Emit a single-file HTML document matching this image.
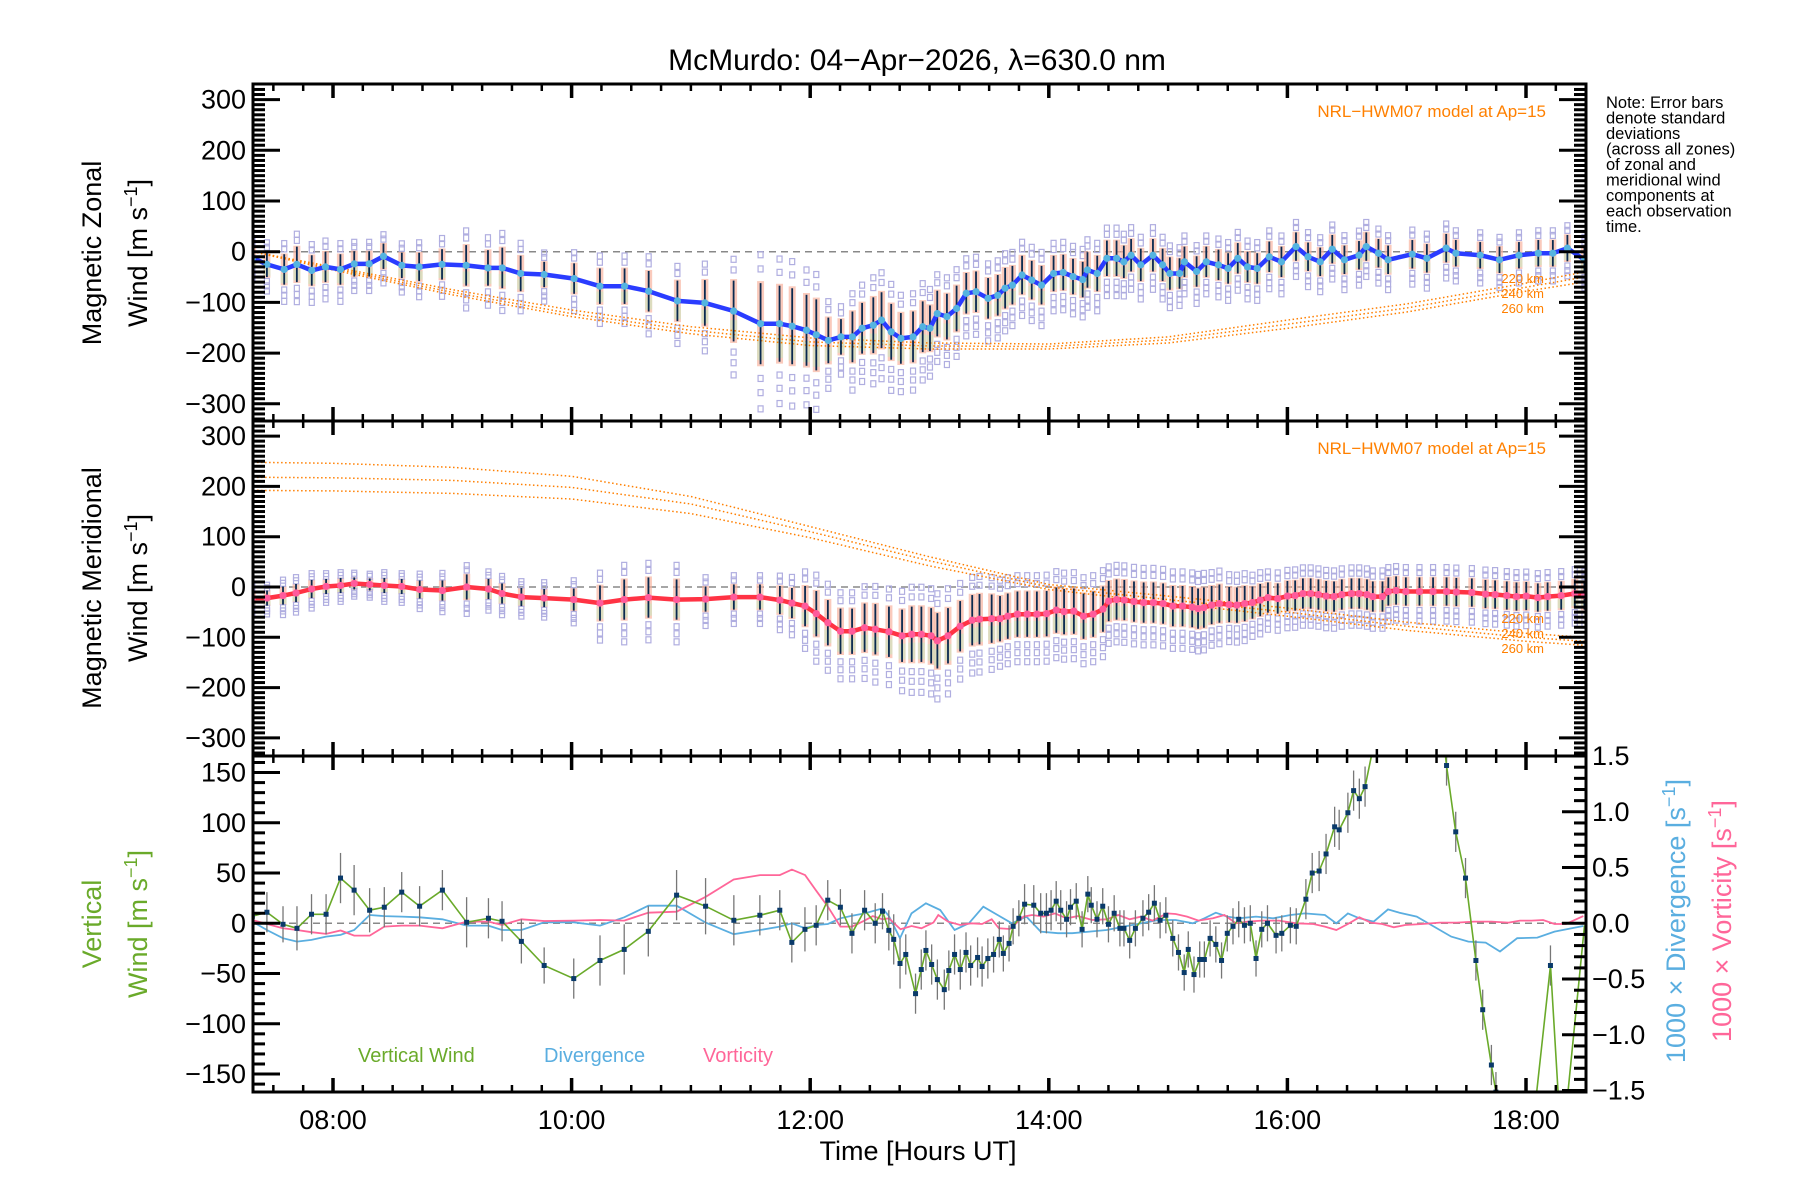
<!DOCTYPE html>
<html><head><meta charset="utf-8"><title>McMurdo winds</title>
<style>
html,body{margin:0;padding:0;background:#fff;}
svg{display:block;font-family:"Liberation Sans",sans-serif;}
</style></head>
<body>
<svg id="chart" width="1800" height="1200" viewBox="0 0 1800 1200" xmlns="http://www.w3.org/2000/svg">
<defs>
<clipPath id="c1"><rect x="253" y="84" width="1333" height="337"/></clipPath>
<clipPath id="c2"><rect x="253" y="421" width="1333" height="335"/></clipPath>
<clipPath id="c3"><rect x="253" y="756" width="1333" height="336"/></clipPath>
</defs>
<text x="917" y="70" font-size="30" text-anchor="middle">McMurdo: 04−Apr−2026, λ=630.0 nm</text>
<g id="p1"></g>
<g id="p2"></g>
<g id="p3"></g>
<g id="axes"></g>
<g font-size="16.5" fill="#000">
<text x="1606" y="108">Note: Error bars</text>
<text x="1606" y="123.5">denote standard</text>
<text x="1606" y="139">deviations</text>
<text x="1606" y="154.5">(across all zones)</text>
<text x="1606" y="170">of zonal and</text>
<text x="1606" y="185.5">meridional wind</text>
<text x="1606" y="201">components at</text>
<text x="1606" y="216.5">each observation</text>
<text x="1606" y="232">time.</text>
</g>
<text x="1546" y="117" font-size="17" fill="#ff8000" text-anchor="end">NRL−HWM07 model at Ap=15</text>
<text x="1546" y="454" font-size="17" fill="#ff8000" text-anchor="end">NRL−HWM07 model at Ap=15</text>
<g font-size="13" fill="#ff8000" text-anchor="end">
<text x="1544" y="283">220 km</text><text x="1544" y="298">240 km</text><text x="1544" y="313">260 km</text></g>
<g font-size="13" fill="#ff8000" text-anchor="end">
<text x="1544" y="623">220 km</text><text x="1544" y="638">240 km</text><text x="1544" y="653">260 km</text></g>
<g font-size="27">
<text transform="translate(101,253) rotate(-90)" text-anchor="middle">Magnetic Zonal</text>
<text transform="translate(147,253) rotate(-90)" text-anchor="middle">Wind [m s<tspan dy="-10" font-size="18">−1</tspan><tspan dy="10">]</tspan></text>
<text transform="translate(101,588) rotate(-90)" text-anchor="middle">Magnetic Meridional</text>
<text transform="translate(147,588) rotate(-90)" text-anchor="middle">Wind [m s<tspan dy="-10" font-size="18">−1</tspan><tspan dy="10">]</tspan></text>
<text fill="#6aaa2a" transform="translate(101,924) rotate(-90)" text-anchor="middle">Vertical</text>
<text fill="#6aaa2a" transform="translate(147,924) rotate(-90)" text-anchor="middle">Wind [m s<tspan dy="-10" font-size="18">−1</tspan><tspan dy="10">]</tspan></text>
<text fill="#5aaee0" transform="translate(1685,921) rotate(-90)" text-anchor="middle">1000 × Divergence [s<tspan dy="-10" font-size="18">−1</tspan><tspan dy="10">]</tspan></text>
<text fill="#ff6699" transform="translate(1731,921) rotate(-90)" text-anchor="middle">1000 × Vorticity [s<tspan dy="-10" font-size="18">−1</tspan><tspan dy="10">]</tspan></text>
<text x="918" y="1160" text-anchor="middle">Time [Hours UT]</text>
</g>
<g font-size="20">
<text x="358" y="1062" fill="#6aaa2a">Vertical Wind</text>
<text x="544" y="1062" fill="#5aaee0">Divergence</text>
<text x="703" y="1062" fill="#ff6699">Vorticity</text>
</g>
</svg>
<script>
// ---------- DATA ----------
const zonalTimes=[7.326,7.446,7.591,7.697,7.822,7.937,8.062,8.178,8.303,8.423,8.577,8.722,8.914,9.116,9.299,9.419,9.573,9.770,10.021,10.237,10.444,10.646,10.887,11.117,11.358,11.584,11.743,11.849,11.969,12.051,12.152,12.258,
12.354,12.435,12.529,12.598,12.679,12.760,12.862,12.943,13.004,13.065,13.146,13.227,13.308,13.390,13.491,13.572,13.634,13.695,13.776,13.857,13.939,14.040,14.121,14.203,14.284,14.324,14.406,14.487,14.568,14.629,14.690,14.771,14.873,14.954,15.015,15.096,15.137,15.239,15.320,15.422,15.503,15.584,15.666,15.747,15.848,15.950,16.072,16.173,16.275,16.376,16.478,16.600,16.661,16.763,16.844,17.047,17.169,17.331,17.412,17.616,17.778,17.941,18.103,18.225,18.347,18.490];
const zonalWind=[-12,-25,-35,-25,-37,-30,-35,-24,-24,-9,-27,-30,-25,-27,-32,-32,-43,-45,-53,-68,-68,-78,-97,-101,-117,-142,-142,-147,-155,-164,-175,-168,
-168,-151,-145,-135,-158,-171,-168,-148,-151,-122,-128,-112,-82,-79,-92,-86,-72,-66,-46,-56,-66,-43,-41,-49,-55,-36,-43,-13,-13,-20,-7,-26,-7,-26,-43,-43,-20,-39,-20,-26,-33,-13,-30,-33,-10,-20,10,-10,-20,5,-16,-7,10,-3,-16,-5,-13,7,-3,-7,-16,-7,-3,-3,7,-16];
const zonalSd=[20,25,30,35,30,30,30,25,25,25,25,28,30,40,35,40,35,25,30,35,35,40,40,45,60,80,75,75,70,70,45,35,
50,50,55,55,55,50,50,50,45,45,45,45,40,40,40,40,40,38,38,38,38,35,35,35,35,35,35,35,35,32,32,32,32,32,32,30,30,30,30,30,30,30,30,30,30,30,28,28,28,28,28,28,28,28,28,28,28,28,26,26,26,26,26,26,26,26];
const meridTimes=[7.324,7.447,7.581,7.690,7.821,7.942,8.064,8.178,8.308,8.430,8.576,8.727,8.917,9.121,9.303,9.417,9.579,9.770,10.018,10.238,10.441,10.644,10.880,11.123,11.360,11.579,11.746,11.847,11.957,12.051,12.148,12.254,12.351,12.456,12.546,12.660,12.770,12.851,12.932,13.014,13.066,13.155,13.257,13.358,13.419,13.521,13.591,13.656,
13.737,13.819,13.900,13.982,14.063,14.128,14.210,14.291,14.372,14.454,14.502,14.568,14.633,14.714,14.795,14.877,14.958,15.040,15.121,15.202,15.251,15.300,15.365,15.430,15.512,15.577,15.642,15.707,15.772,15.837,15.919,16.000,16.065,16.130,16.195,16.260,16.325,16.391,16.456,16.537,16.602,16.667,16.716,16.797,16.846,16.911,16.993,17.107,17.221,17.334,17.416,17.546,17.660,17.741,17.839,17.920,18.002,18.099,18.181,18.295,18.409,18.490];
const meridWind=[-22,-22,-17,-12,-4,1,3,7,5,3,1,-5,-7,0,-4,-13,-20,-22,-25,-32,-25,-21,-25,-24,-20,-20,-26,-32,-38,-53,-71,-88,-88,-81,-84,-89,-97,-94,-94,-97,-107,-97,-78,-66,-64,-63,-63,-58,
-54,-54,-54,-53,-46,-49,-48,-58,-54,-44,-28,-25,-26,-29,-31,-31,-33,-38,-38,-40,-43,-41,-36,-33,-35,-36,-33,-31,-26,-21,-23,-18,-17,-13,-13,-15,-18,-19,-15,-13,-13,-15,-19,-19,-9,-7,-9,-9,-9,-9,-10,-11,-14,-15,-17,-19,-18,-21,-19,-17,-13,-17];
const meridSd=[15,15,18,18,18,15,15,12,12,15,15,18,20,25,20,20,18,18,22,35,40,40,40,25,25,25,28,30,40,45,45,45,45,48,50,50,52,55,55,55,55,55,50,50,50,48,45,45,
45,45,45,45,45,45,45,45,45,45,40,40,40,40,40,40,40,40,40,40,40,40,38,38,35,35,35,32,32,30,30,30,30,30,30,30,30,30,30,30,30,30,30,30,28,28,28,28,28,28,28,28,28,28,28,28,28,28,28,28,28,28];
const modelTimes=[7.33,8,9,10,11,12,13,14,15,16,17,18,18.49];
const zonalModel220=[0,-30,-75,-115,-148,-170,-180,-182,-168,-135,-103,-62,-40];
const zonalModel240=[0,-33,-80,-122,-155,-178,-186,-187,-174,-143,-111,-70,-50];
const zonalModel260=[0,-36,-85,-128,-162,-185,-192,-192,-180,-151,-119,-78,-60];
const meridModel220=[248,246,238,220,180,120,60,5,-18,-42,-70,-92,-100];
const meridModel240=[218,217,212,198,165,110,52,0,-25,-50,-78,-100,-108];
const meridModel260=[192,191,186,175,146,98,42,-5,-32,-58,-86,-108,-116];
const vertTimes=[7.324,7.446,7.581,7.698,7.820,7.942,8.063,8.177,8.307,8.430,8.576,8.726,8.917,9.120,9.303,9.417,9.579,9.770,10.018,10.238,10.441,10.643,10.880,11.123,11.360,11.578,11.745,11.846,11.956,12.050,12.147,12.253,12.350,12.456,12.545,12.606,12.659,12.700,
12.753,12.801,12.883,12.931,12.970,13.018,13.066,13.124,13.162,13.210,13.258,13.306,13.345,13.403,13.441,13.489,13.537,13.585,13.619,13.667,13.701,13.749,13.797,13.874,13.932,13.980,14.019,14.062,14.100,14.149,14.182,14.230,14.279,14.327,14.356,14.404,14.452,14.500,14.548,14.596,14.630,14.678,14.726,14.789,14.837,14.885,14.933,14.981,15.039,15.087,15.135,15.169,15.217,15.265,15.304,15.352,15.400,15.448,15.496,15.544,15.592,15.640,15.689,15.737,15.785,15.833,15.905,15.953,16.025,16.074,16.155,16.208,16.266,16.324,16.396,16.434,16.507,16.555,16.603,16.651,16.988,17.180,17.334,17.411,17.493,17.580,17.637,17.710,17.748,17.950,18.205,18.300,18.490];
const vertWind=[7,11,-1,-5,9,9,45,33,13,16,31,17,33,1,5,2,-18,-42,-55,-37,-26,-8,28,17,3,8,13,-19,-6,-2,23,16,-10,13,0,12,-7,-16,
-40,-31,-70,-46,-27,-41,-56,-66,-47,-31,-46,-29,-42,-34,-43,-35,-31,-16,-30,-20,-3,5,19,18,10,10,13,22,13,4,16,22,-6,29,18,4,17,-1,10,-5,-5,-17,-5,5,11,20,3,8,-15,-29,-49,-26,-51,-36,-36,-15,-21,-37,-10,-3,4,-2,0,-35,-6,0,-12,-10,-2,-3,24,50,52,69,96,93,110,132,124,136,330,330,157,91,45,-37,-86,-141,-168,-320,-42,-230,-2];
const vertErr=[22,20,18,22,20,20,25,25,22,20,20,20,20,25,20,20,22,18,20,25,25,25,25,28,25,20,20,20,22,20,20,18,20,20,20,18,20,25,
25,20,20,20,20,20,20,20,20,20,20,20,20,20,20,20,18,18,18,18,18,18,20,20,20,20,20,20,20,18,18,18,18,18,18,18,18,18,18,18,18,18,18,18,18,18,18,18,18,18,18,18,18,18,18,18,18,18,18,18,18,18,18,18,18,18,18,18,18,18,20,20,20,20,20,20,20,20,20,20,0,0,20,20,20,20,20,20,20,0,20,0,0];
const divTimes=[7.324,7.446,7.580,7.698,7.820,7.942,8.064,8.178,8.308,8.430,8.576,8.726,8.917,9.120,9.303,9.417,9.580,9.770,10.018,10.238,10.441,10.644,10.880,11.124,11.359,11.579,11.745,11.847,11.957,12.050,12.148,12.253,12.351,12.456,12.607,12.660,
12.753,12.849,12.970,13.090,13.210,13.330,13.451,13.571,13.691,13.812,13.932,14.076,14.197,14.341,14.485,14.630,14.774,14.919,15.063,15.207,15.304,15.400,15.496,15.592,15.737,15.881,16.025,16.146,16.314,16.410,16.507,16.603,16.723,16.843,16.940,17.084,17.229,17.373,17.517,17.662,17.782,17.926,18.095,18.239,18.383,18.480];
const divergence=[0.015,-0.06,-0.134,-0.164,-0.149,-0.119,-0.104,-0.06,0.074,0.065,0.06,0.054,0.036,-0.021,-0.021,-0.06,-0.06,0.009,0.009,-0.021,0.054,0.158,0.158,0.006,-0.098,-0.06,-0.03,0,-0.045,-0.015,-0.006,0.045,0.068,0.089,0.134,0.065,
-0.134,0.089,0.179,0.119,-0.06,0,0.149,0.074,0,0.06,-0.074,-0.089,-0.089,-0.074,-0.06,-0.03,0,0.03,0.03,0,0.045,0.095,0.06,0.045,0.06,0.045,0.074,0.089,0.074,0,0.089,0.045,0.015,0.125,0.095,0.06,-0.03,-0.119,-0.164,-0.173,-0.253,-0.134,-0.128,-0.074,-0.045,-0.024];
const vortTimes=[7.324,7.446,7.580,7.698,7.820,7.942,8.064,8.178,8.308,8.430,8.576,8.726,8.917,9.120,9.303,9.417,9.580,9.770,10.018,10.238,10.441,10.644,10.880,11.124,11.359,11.579,11.745,11.847,11.957,12.050,12.148,12.253,12.351,12.456,12.525,12.607,12.660,12.757,12.850,12.932,13.033,13.074,13.155,13.257,13.350,13.440,13.521,13.582,13.675,
13.788,13.860,13.956,14.052,14.149,14.245,14.365,14.485,14.582,14.678,14.774,14.870,14.991,15.063,15.159,15.255,15.376,15.472,15.568,15.664,15.785,15.929,16.074,16.218,16.314,16.410,16.507,16.603,16.699,16.795,16.892,16.988,17.132,17.277,17.421,17.565,17.710,17.854,17.950,18.047,18.143,18.239,18.335,18.480];
const vorticity=[0.030,-0.006,-0.045,-0.06,-0.080,-0.095,-0.065,-0.110,-0.110,-0.030,-0.021,-0.021,-0.045,0.015,0.015,-0.015,0.036,0.021,0.024,0.030,0.024,0.095,0.104,0.238,0.393,0.432,0.432,0.482,0.432,0.292,0.149,-0.030,-0.030,0.024,0.065,0.036,0.045,-0.054,-0.024,-0.045,0.006,0.074,0.015,-0.015,0,-0.006,0.036,-0.045,-0.051,
0.060,0.074,0.060,0.089,0.045,0.065,0.030,0.036,0.074,0.036,0.060,0.024,0.089,0.083,0.060,0.024,0.045,0.074,0,0.015,0.024,0.024,0,-0.006,-0.030,-0.060,-0.006,0.054,0.006,-0.006,-0.036,-0.015,-0.006,0.006,0.006,0.015,0.015,0.006,0.024,0.024,0.030,-0.006,-0.006,0.065];
const xTickLabels=["08:00","10:00","12:00","14:00","16:00","18:00"];
const xTickHours=[8,10,12,14,16,18];

// ---------- AXIS FUNCTIONS ----------
const NS="http://www.w3.org/2000/svg";
const X0=253,X1=1586;
function xs(t){return 333+(t-8)*119.3;}
function y1(v){return 251.7-v*0.507;}
function y2(v){return 587-v*0.503;}
function y3(v){return 923.3-v*1.005;}
function y3r(v){return 923.3-v*111.5;}
function mk(tag,attrs,parent){const e=document.createElementNS(NS,tag);for(const k in attrs)e.setAttribute(k,attrs[k]);parent.appendChild(e);return e;}
function poly(ts,vs,yf){return ts.map((t,i)=>xs(t).toFixed(1)+","+yf(vs[i]).toFixed(1)).join(" ");}

function windPanel(g,clip,times,vals,sd,yf,models,lineCol,dotCol,nm){
  const cg=mk("g",{"clip-path":"url(#"+clip+")"},g);
  const z=mk("line",{x1:X0,x2:X1,y1:yf(0),y2:yf(0),stroke:"#888","stroke-dasharray":"7,5","stroke-width":1.5},cg);
  
  
  times.forEach((t,i)=>{
    const x=xs(t),m=vals[i],s=sd[i];
    const r=mk("rect",{x:x-3.5,y:yf(m+s*1.05),width:7,height:yf(m-s*1.05)-yf(m+s*1.05),fill:"#f8b4a0","fill-opacity":0.7},cg);
    
    
    const r2=mk("rect",{x:x-3.5,y:yf(m-s*0.3),width:7,height:yf(m-s*0.9)-yf(m-s*0.3),fill:"#c8e8c0","fill-opacity":0.6},cg);
    
    
    [1.35,1.7,-1.35,-1.7,-2.1].forEach(k=>{
      const q=mk("rect",{x:x-2.5,y:yf(m+s*k)-3,width:5,height:6,fill:"none",stroke:"#b0aee0","stroke-width":1.2},cg);
      
      
    });
  });
  models.forEach((mv,j)=>{
    const p=mk("polyline",{points:poly(modelTimes,mv,yf),fill:"none",stroke:"#ff7f00","stroke-width":1.5,"stroke-dasharray":"1.5,2.5"},cg);
    
    
  });
  times.forEach((t,i)=>{
    const x=xs(t);
    const l=mk("line",{x1:x,x2:x,y1:yf(vals[i]+sd[i]),y2:yf(vals[i]-sd[i]),stroke:"#0a2a50","stroke-width":1.8},cg);
    
    
  });
  const ln=mk("polyline",{points:poly(times,vals,yf),fill:"none",stroke:lineCol,"stroke-width":4.5,"stroke-linejoin":"round"},cg);
  
  
  times.forEach((t,i)=>{
    const c=mk("circle",{cx:xs(t),cy:yf(vals[i]),r:3.6,fill:dotCol},cg);
    
    
  });
}
windPanel(document.getElementById("p1"),"c1",zonalTimes,zonalWind,zonalSd,y1,[zonalModel220,zonalModel240,zonalModel260],"#2a3cff","#55b4e0","zonal");
windPanel(document.getElementById("p2"),"c2",meridTimes,meridWind,meridSd,y2,[meridModel220,meridModel240,meridModel260],"#ff3344","#ff5b9b","meridional");

(function(){
  const g=document.getElementById("p3");
  const cg=mk("g",{"clip-path":"url(#c3)"},g);
  const z=mk("line",{x1:X0,x2:X1,y1:y3(0),y2:y3(0),stroke:"#888","stroke-dasharray":"7,5","stroke-width":1.5},cg);
  
  
  const d=mk("polyline",{points:poly(divTimes,divergence,y3r),fill:"none",stroke:"#5aaee0","stroke-width":1.8},cg);
  
  
  const v=mk("polyline",{points:poly(vortTimes,vorticity,y3r),fill:"none",stroke:"#ff6699","stroke-width":1.8},cg);
  
  
  vertTimes.forEach((t,i)=>{
    if(!vertErr[i])return;
    const x=xs(t);
    const l=mk("line",{x1:x,x2:x,y1:y3(vertWind[i]+vertErr[i]),y2:y3(vertWind[i]-vertErr[i]),stroke:"#777","stroke-width":1.3},cg);
    
    
  });
  const w=mk("polyline",{points:poly(vertTimes,vertWind,y3),fill:"none",stroke:"#6aaa2a","stroke-width":1.6},cg);
  
  
  vertTimes.forEach((t,i)=>{
    if(!vertErr[i])return;
    const r=mk("rect",{x:xs(t)-2.5,y:y3(vertWind[i])-2.5,width:5,height:5,fill:"#0a3a6a"},cg);
    
    
  });
})();

(function(){
  const g=document.getElementById("axes");
  const panels=[[84,421],[421,756],[756,1092]];
  panels.forEach(([a,b],pi)=>{
    const r=mk("rect",{x:X0,y:a,width:X1-X0,height:b-a,fill:"none",stroke:"#000","stroke-width":3},g);
    
    
    for(let t=7.5;t<=18.49;t+=0.25){
      const x=xs(t);if(x<X0||x>X1)continue;
      const maj=Math.abs(t/2-Math.round(t/2))<1e-6;
      const L=maj?14:7,w=maj?3.5:2.5;
      mk("line",{x1:x,x2:x,y1:a,y2:a+L,stroke:"#000","stroke-width":w},g);
      mk("line",{x1:x,x2:x,y1:b,y2:b-L,stroke:"#000","stroke-width":w},g);
    }
  });
  function yticks(yf,lo,hi,minStep,majStep,a,b,labels,right){
    for(let v=lo;v<=hi+1e-9;v+=minStep){
      const y=yf(v);if(y<a+1||y>b-1)continue;
      const maj=Math.abs(v/majStep-Math.round(v/majStep))<1e-6;
      const L=maj?27:12;
      mk("line",{x1:X0,x2:X0+L,y1:y,y2:y,stroke:"#000","stroke-width":3},g);
      if(right!==false) mk("line",{x1:X1,x2:X1-L,y1:y,y2:y,stroke:"#000","stroke-width":3},g);
    }
    if(labels)labels.forEach(v=>{
      const t=mk("text",{x:246,y:yf(v)+9,"font-size":27,"text-anchor":"end"},g);
      t.textContent=(v<0?"−":"")+Math.abs(v);
      
      
    });
  }
  yticks(y1,-330,330,10,100,84,421,[300,200,100,0,-100,-200,-300]);
  yticks(y2,-330,330,10,100,421,756,[300,200,100,0,-100,-200,-300]);
  yticks(y3,-160,160,10,50,756,1092,[150,100,50,0,-50,-100,-150],false);
  for(let v=-1.5;v<=1.5+1e-9;v+=0.1){
    const y=y3r(v);const maj=Math.abs(v*2-Math.round(v*2))<1e-6;const L=maj?24:12;
    mk("line",{x1:X1,x2:X1-L,y1:y,y2:y,stroke:"#000","stroke-width":3},g);
  }
  [1.5,1.0,0.5,0.0,-0.5,-1.0,-1.5].forEach(v=>{
    const t=mk("text",{x:1592,y:y3r(v)+9,"font-size":27},g);
    t.textContent=(v<0?"−":"")+Math.abs(v).toFixed(1);
    
    
  });
  xTickHours.forEach((h,i)=>{
    const t=mk("text",{x:xs(h),y:1129,"font-size":27,"text-anchor":"middle"},g);
    t.textContent=xTickLabels[i];
    
    
  });
})();
</script>
</body></html>
